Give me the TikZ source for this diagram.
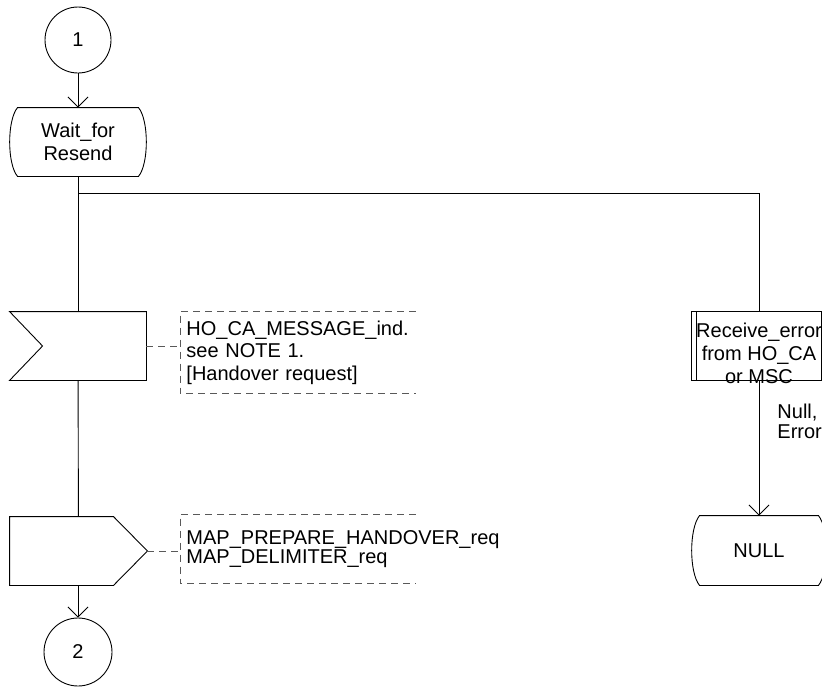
\documentclass[tikz,border=0pt]{standalone}
\usepackage{fontspec}
\setmainfont{Liberation Sans}
\usetikzlibrary{positioning, arrows.meta, calc}

\begin{document}
\begin{tikzpicture}[x=1pt, y=-1pt, line width=0.9pt,
    font=\fontsize{20}{23}\selectfont,
    >={Straight Barb[length=10pt,width=20pt]},
    conn/.style={circle, draw, minimum size=66pt, inner sep=0pt},
    sym/.style={rectangle, minimum width=136pt, minimum height=68pt, inner sep=0pt, align=center},
    cmtbox/.style={rectangle, inner xsep=6pt, inner ysep=0pt, text width=223pt, align=left, anchor=west},
    cmtline/.style={dashed, dash pattern=on 7pt off 5pt, draw=black!65}]
  \useasboundingbox (0,0) rectangle (822,689);
  \clip (0,0) rectangle (822,689);

  % left branch
  \node[conn] (con1) at (78,40) {1};
  \node[sym] (wait) at (78,142) {Wait\_for\\Resend};
  \node[sym] (rcv) at (78,346) {};
  \node[sym, minimum width=137pt, xshift=0.5pt] (snd) at (78,551) {};
  \node[conn, minimum size=68pt] (con2) at (78,652) {2};

  % right branch
  \node[sym, minimum width=134pt,
    label={[align=center, yshift=-7pt]center:Receive\_error\\from HO\_CA\\or MSC}] (proc) at (759,346) {};
  \node[sym, minimum width=134pt, minimum height=69pt] (null) at (759,550.5) {NULL};
  \node[align=left, anchor=west, inner sep=0pt, font=\fontsize{20}{20}\selectfont] (cause) at (777,421) {Null,\\Error};

  % comments
  \node[cmtbox, minimum height=81pt, font=\fontsize{20}{22.5}\selectfont] (cmt1) at (180,352.5)
    {HO\_CA\_MESSAGE\_ind.\\see NOTE 1.\\{[Handover request]}};
  \node[cmtbox, minimum height=68pt, font=\fontsize{20}{19.5}\selectfont] (cmt2) at (180,549)
    {MAP\_PREPARE\_HANDOVER\_req\\MAP\_DELIMITER\_req};

  % symbol outlines
  \draw ($(wait.north west)+(8,0)$) -- ($(wait.north east)+(-8,0)$)
    .. controls ($(wait.east)+(2.5,-22)$) and ($(wait.east)+(2.5,22)$) .. ($(wait.south east)+(-8,0)$)
    -- ($(wait.south west)+(8,0)$)
    .. controls ($(wait.west)+(-2.5,22)$) and ($(wait.west)+(-2.5,-22)$) .. cycle;
  \draw (rcv.north west) -- (rcv.north east) -- (rcv.south east) -- (rcv.south west)
    -- ($(rcv.west)+(33,0)$) -- cycle;
  \draw (snd.north west) -- ($(snd.north east)+(-34,0)$) -- (snd.east)
    -- ($(snd.south east)+(-34,0)$) -- (snd.south west) -- cycle;
  \draw (proc.north west) rectangle (proc.south east);
  \draw ($(proc.north west)+(5,0)$) -- ($(proc.south west)+(5,0)$);
  \draw ($(proc.north east)+(-5,0)$) -- ($(proc.south east)+(-5,0)$);
  \draw ($(null.north west)+(8,0)$) -- ($(null.north east)+(-8,0)$)
    .. controls ($(null.east)+(2.5,-22)$) and ($(null.east)+(2.5,22)$) .. ($(null.south east)+(-8,0)$)
    -- ($(null.south west)+(8,0)$)
    .. controls ($(null.west)+(-2.5,22)$) and ($(null.west)+(-2.5,-22)$) .. cycle;
  \draw[cmtline] (cmt1.north east) -- (cmt1.north west) -- (cmt1.south west) -- (cmt1.south east);
  \draw[cmtline] (cmt2.north east) -- (cmt2.north west) -- (cmt2.south west) -- (cmt2.south east);

  % connectors
  \coordinate (fork) at (78,193);
  \draw[->] (con1) -- (wait);
  \draw (wait) -- (rcv);
  \draw (fork) -| (proc.north);
  \draw (rcv) -- (snd);
  \draw[->] (snd.south -| con2) -- (con2);
  \draw[->] (proc) -- (null);
  \draw[cmtline] (rcv.east) -- (cmt1.west |- rcv.east);
  \draw[cmtline] (snd.east) -- (cmt2.west |- snd.east);
\end{tikzpicture}
\end{document}
